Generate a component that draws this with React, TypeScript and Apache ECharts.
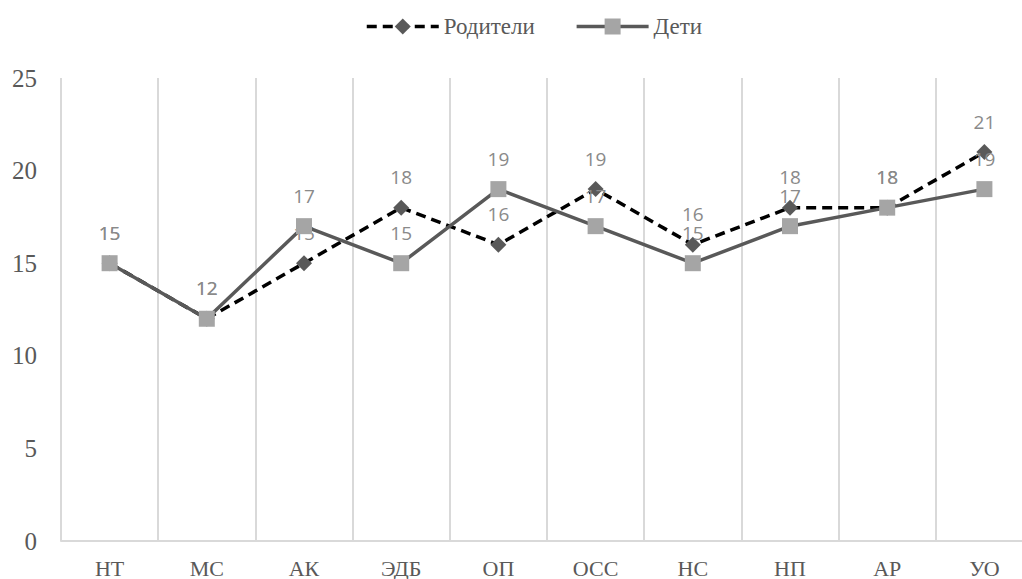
import React, { useEffect, useRef } from "react";
import * as echarts from "echarts";

const categories = ["НТ", "МС", "АК", "ЭДБ", "ОП", "ОСС", "НС", "НП", "АР", "УО"];
const parents = [15, 12, 15, 18, 16, 19, 16, 18, 18, 21];
const children = [15, 12, 17, 15, 19, 17, 15, 17, 18, 19];
const seriesNames = ["Родители", "Дети"];

const SERIF = "'Liberation Serif', serif";

export default function App() {
  const ref = useRef<HTMLDivElement>(null);
  useEffect(() => {
    if (!ref.current) return;
    const chart = echarts.init(ref.current, undefined, { renderer: "svg" });
    const labelStyle = {
      show: true,
      position: "top" as const,
      distance: 13,
      color: "#8a8a8a",
      fontSize: 19,
      fontFamily: "'Open Sans', sans-serif",
    };
    chart.setOption({
      animation: false,
      backgroundColor: "#ffffff",
      legend: {
        left: 360,
        top: 10,
        itemWidth: 72,
        itemHeight: 20,
        itemGap: 40,
        lineStyle: { width: 3.5 },
        textStyle: { fontFamily: SERIF, fontSize: 23, color: "#595959" },
        data: seriesNames,
      },
      grid: { left: 61, top: 78, width: 972, height: 463 },
      xAxis: {
        type: "category",
        data: categories,
        boundaryGap: true,
        axisLine: { show: true, lineStyle: { color: "#d9d9d9", width: 2 } },
        axisTick: { show: false },
        splitLine: { show: true, lineStyle: { color: "#d9d9d9", width: 2 } },
        axisLabel: { margin: 16, fontFamily: SERIF, fontSize: 22, color: "#595959" },
      },
      yAxis: {
        type: "value",
        min: 0,
        max: 25,
        interval: 5,
        axisLine: { show: false },
        axisTick: { show: false },
        splitLine: { show: false },
        axisLabel: { margin: 24, fontFamily: SERIF, fontSize: 25, color: "#595959" },
      },
      series: [
        {
          name: seriesNames[0],
          type: "line",
          data: parents,
          symbol: "diamond",
          symbolSize: 16,
          itemStyle: { color: "#595959" },
          lineStyle: { color: "#000000", width: 3.5, type: [10, 6] },
          label: labelStyle,
          z: 2,
        },
        {
          name: seriesNames[1],
          type: "line",
          data: children,
          symbol: "rect",
          symbolSize: 16,
          itemStyle: { color: "#a5a5a5" },
          lineStyle: { color: "#595959", width: 3.5 },
          label: labelStyle,
          z: 3,
        },
      ],
    });
    return () => chart.dispose();
  }, []);
  return (
    <div
      ref={ref}
      style={{ position: "fixed", left: 0, top: 0, width: 1040, height: 579, overflow: "hidden" }}
    />
  );
}
